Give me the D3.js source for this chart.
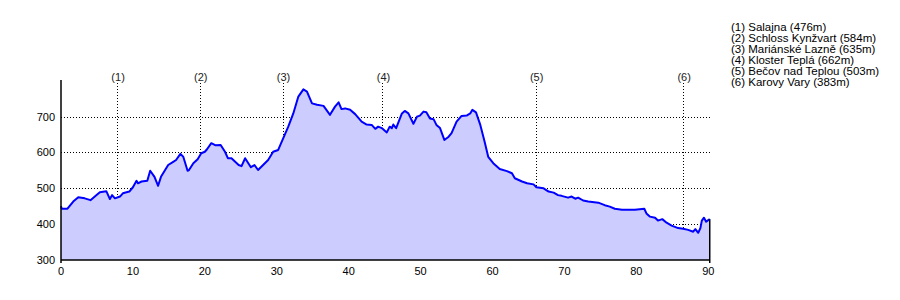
<!DOCTYPE html>
<html>
<head>
<meta charset="utf-8">
<script src="https://cdn.jsdelivr.net/npm/d3@7/dist/d3.min.js"></script>
<style>
  html, body { margin: 0; padding: 0; background: #fff; }
  svg { display: block; font-family: "Liberation Sans", Arial, Helvetica, sans-serif; }
</style>
</head>
<body>
<svg id="chart" width="900" height="300"></svg>
<script>
// distance along route (km)
const distKm = [0.0,0.1,0.9,1.7,2.4,3.3,4.1,4.7,5.4,6.3,6.8,7.1,7.5,8.2,8.6,9.5,10.0,10.5,10.7,11.2,12.0,12.4,13.0,13.5,13.9,14.9,15.6,16.0,16.6,17.0,17.6,17.8,18.4,19.0,19.5,20.0,20.3,20.9,21.5,22.2,22.8,23.2,23.7,24.7,25.1,25.6,26.4,26.9,27.4,28.1,28.8,29.5,30.2,30.8,31.6,32.3,33.0,33.7,34.2,34.9,35.6,36.5,37.4,38.1,38.6,39.0,39.5,40.2,40.9,41.8,42.5,43.2,43.7,44.1,44.6,45.3,45.7,46.0,46.2,46.6,47.4,47.8,48.3,49.0,49.5,49.9,50.4,50.8,51.3,51.8,52.2,52.7,53.3,53.9,54.3,55.0,55.7,56.4,56.9,57.2,57.7,58.3,58.9,59.4,60.1,61.0,62.0,62.7,63.1,64.1,64.8,65.7,66.1,67.1,67.8,68.5,69.1,69.6,70.5,71.0,71.5,71.9,72.6,73.3,74.7,75.6,76.3,77.0,78.0,78.9,79.8,81.1,81.4,81.9,82.6,83.0,83.6,84.2,84.9,85.8,86.5,87.2,87.9,88.2,88.6,88.9,89.1,89.4,89.7,90.2];
// elevation (m)
const elevM = [450,443,443,463,475,472,467,477,489,492,470,481,472,477,486,491,503,521,514,519,521,549,532,507,532,565,574,579,596,588,549,551,570,581,598,602,609,626,620,621,602,584,584,565,562,584,559,565,551,565,579,602,607,635,672,709,756,776,770,737,733,730,705,728,740,721,723,719,707,686,678,677,666,672,668,656,672,668,678,668,709,716,709,680,700,703,714,712,695,693,677,668,635,644,654,686,702,703,709,719,712,677,630,588,570,554,548,542,528,519,514,511,503,500,491,488,481,479,474,477,471,474,466,463,460,453,449,443,440,440,440,443,430,421,418,410,414,404,396,389,387,384,379,386,376,389,410,418,407,414];

// waypoints
const markerKm = [7.8, 19.3, 30.8, 44.7, 66.0, 86.5];
const markerTag = ["(1)", "(2)", "(3)", "(4)", "(5)", "(6)"];
const markerText = ["(1) Salajna (476m)", "(2) Schloss Kynžvart (584m)", "(3) Mariánské Lazně (635m)", "(4) Kloster Teplá (662m)", "(5) Bečov nad Teplou (503m)", "(6) Karovy Vary (383m)"];

// axis ticks
const xTicks = [0, 10, 20, 30, 40, 50, 60, 70, 80, 90];
const yTicks = [300, 400, 500, 600, 700];
const gridVals = [400, 500, 600, 700];

const data = distKm.map((d, i) => ({ x: d, y: elevM[i] }));

const svg = d3.select("#chart");
const x = d3.scaleLinear().domain([0, 90]).range([61, 708.3]);
const y = d3.scaleLinear().domain([300, 800]).range([260, 80.8]);
const plotRight = 712;

// horizontal grid
svg.append("g").selectAll("line").data(gridVals).join("line")
  .attr("x1", x(0)).attr("x2", plotRight)
  .attr("y1", d => Math.round(y(d)) + 0.5).attr("y2", d => Math.round(y(d)) + 0.5)
  .attr("stroke", "#000").attr("stroke-width", 1).attr("stroke-dasharray", "1,2");

// waypoint vertical lines
svg.append("g").selectAll("line").data(markerKm).join("line")
  .attr("x1", d => Math.round(x(d)) + 0.5).attr("x2", d => Math.round(x(d)) + 0.5)
  .attr("y1", 83).attr("y2", y(300))
  .attr("stroke", "#000").attr("stroke-width", 1).attr("stroke-dasharray", "1,2");

// waypoint labels
svg.append("g").selectAll("text").data(markerKm).join("text")
  .attr("x", d => x(d) + 1).attr("y", 80.5)
  .attr("text-anchor", "middle").attr("font-size", 11).attr("fill", "#222")
  .text((d, i) => markerTag[i]);

// area
const area = d3.area().x(d => x(d.x)).y0(y(300)).y1(d => y(d.y));
svg.append("path").datum(data).attr("d", area).attr("fill", "#ccccff");

// line
const line = d3.line().x(d => x(d.x)).y(d => y(d.y));
svg.append("path").datum(data).attr("d", line)
  .attr("fill", "none").attr("stroke", "#0000ff").attr("stroke-width", 2)
  .attr("stroke-linejoin", "round");

// right edge of profile
const last = data[data.length - 1];
svg.append("line")
  .attr("x1", x(last.x)).attr("x2", x(last.x))
  .attr("y1", y(last.y)).attr("y2", y(300) + 3)
  .attr("stroke", "#000").attr("stroke-width", 1.5);

// axes lines
svg.append("line").attr("x1", x(0)).attr("x2", x(0)).attr("y1", 80).attr("y2", y(300) + 3)
  .attr("stroke", "#000").attr("stroke-width", 1.5);
svg.append("line").attr("x1", x(0)).attr("x2", x(last.x)).attr("y1", y(300)).attr("y2", y(300))
  .attr("stroke", "#000").attr("stroke-width", 1.5);

// y labels
svg.append("g").selectAll("text").data(yTicks).join("text")
  .attr("x", 55).attr("y", d => y(d) + 4)
  .attr("text-anchor", "end").attr("font-size", 11).attr("fill", "#000")
  .text(d => d);

// x labels
svg.append("g").selectAll("text").data(xTicks).join("text")
  .attr("x", d => x(d)).attr("y", 274.5)
  .attr("text-anchor", "middle").attr("font-size", 11).attr("fill", "#000")
  .text(d => d);

// legend
svg.append("g").selectAll("text").data(markerText).join("text")
  .attr("x", 731).attr("y", (d, i) => 31 + i * 11)
  .attr("font-size", 11.5).attr("fill", "#000")
  .text(d => d);
</script>
</body>
</html>
